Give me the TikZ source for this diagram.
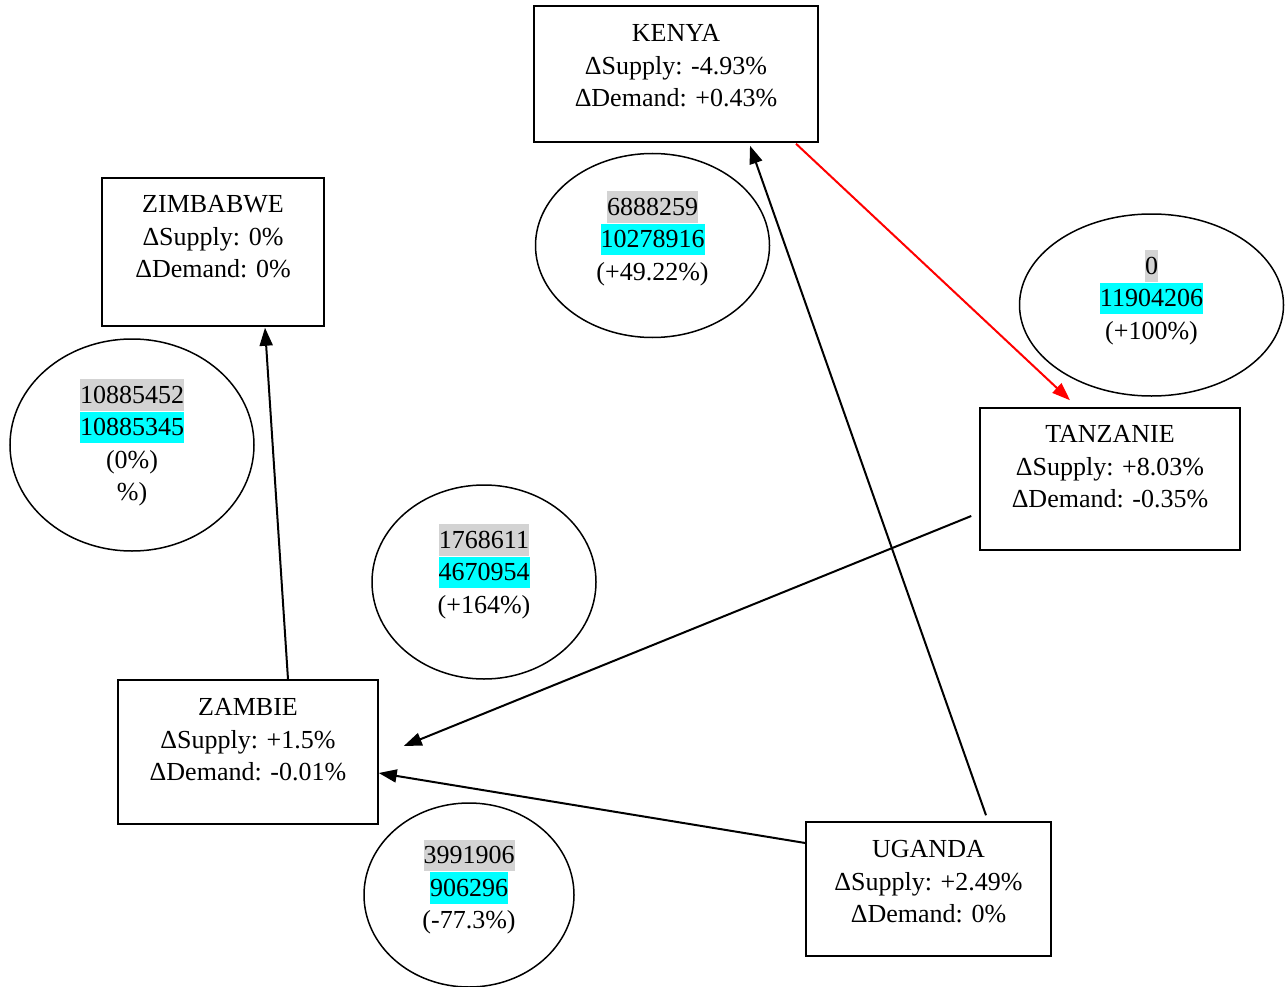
\documentclass[tikz,border=0pt]{standalone}
\usepackage{fontspec}
\setmainfont{Liberation Serif}
\usetikzlibrary{calc,shapes.geometric,arrows.meta}
\definecolor{hlgray}{HTML}{D3D3D3}
\definecolor{hlcyan}{HTML}{00FFFF}
\definecolor{edgered}{HTML}{FF0000}
\newcommand{\hlstrut}{\rule[-7.5pt]{0pt}{31.5pt}}
\newcommand{\hlg}[1]{{\setlength{\fboxsep}{0pt}\colorbox{hlgray}{\hlstrut#1}}}
\newcommand{\hlc}[1]{{\setlength{\fboxsep}{0pt}\colorbox{hlcyan}{\hlstrut#1}}}
\begin{document}
\begin{tikzpicture}[x=1pt,y=-1pt,
  country/.style={draw,line width=1.5pt,rectangle,inner sep=0pt},
  flow/.style={draw,line width=1.5pt,ellipse,inner sep=0pt},
  txt/.style={align=center,inner sep=0pt,font=\fontsize{26}{32.5}\selectfont},
  conn/.style={line width=2pt,-{Triangle[length=18pt,width=13pt]}}]
\useasboundingbox (0,0) rectangle (1287,987);
% country boxes
\node[country,minimum width=284pt,minimum height=136pt] (kenya) at (676,74) {};
\node[country,minimum width=222pt,minimum height=148pt] (zimbabwe) at (213,252) {};
\node[country,minimum width=260pt,minimum height=142pt] (tanzanie) at (1110,479) {};
\node[country,minimum width=260pt,minimum height=144pt] (zambie) at (248,752) {};
\node[country,minimum width=245pt,minimum height=134pt] (uganda) at (928.5,889) {};
\node[txt] (kenyaT) at (676,66) {KENYA\\ΔSupply: -4.93\%\\ΔDemand: +0.43\%};
\node[txt] (zimbabweT) at (213,237) {ZIMBABWE\\ΔSupply: 0\%\\ΔDemand: 0\%};
\node[txt] (tanzanieT) at (1110,467) {TANZANIE\\ΔSupply: +8.03\%\\ΔDemand: -0.35\%};
\node[txt] (zambieT) at (248,740) {ZAMBIE\\ΔSupply: +1.5\%\\ΔDemand: -0.01\%};
\node[txt] (ugandaT) at (928.5,882) {UGANDA\\ΔSupply: +2.49\%\\ΔDemand: 0\%};
% flow ellipses
\node[flow,minimum width=234pt,minimum height=184pt] (e1) at (652.5,245.5) {};
\node[flow,minimum width=264pt,minimum height=182pt] (e2) at (1151.5,305) {};
\node[flow,minimum width=244pt,minimum height=212pt] (e3) at (132,445) {};
\node[flow,minimum width=224pt,minimum height=194pt] (e4) at (484,582) {};
\node[flow,minimum width=210pt,minimum height=184pt] (e5) at (469,895) {};
\node[txt] (e1T) at (652.5,238.5) {\hlg{6888259}\\\hlc{10278916}\\(+49.22\%)};
\node[txt] (e2T) at (1151.5,297.5) {\hlg{0}\\\hlc{11904206}\\(+100\%)};
\node[txt] (e3T) at (132,443) {\hlg{10885452}\\\hlc{10885345}\\(0\%)\\\%)};
\node[txt] (e4T) at (484,571.5) {\hlg{1768611}\\\hlc{4670954}\\(+164\%)};
\node[txt] (e5T) at (469,887) {\hlg{3991906}\\\hlc{906296}\\(-77.3\%)};
% connectors
\draw[conn] ($(uganda.north)+(57.5,-6)$) -- ($(kenya.south)+(74,3)$);
\draw[conn,draw=edgered,fill=edgered] ($(kenya.south)+(120,1)$) -- ($(tanzanie.north)+(-40,-7)$);
\draw[conn] ($(zambie.north)+(40,0)$) -- ($(zimbabwe.south)+(52,1)$);
\draw[conn] ($(tanzanie.west)+(-8,37)$) -- ($(zambie.east)+(25,-6)$);
\draw[conn] ($(uganda.west)+(0,-46)$) -- ($(zambie.east)+(0,21)$);
\end{tikzpicture}
\end{document}
